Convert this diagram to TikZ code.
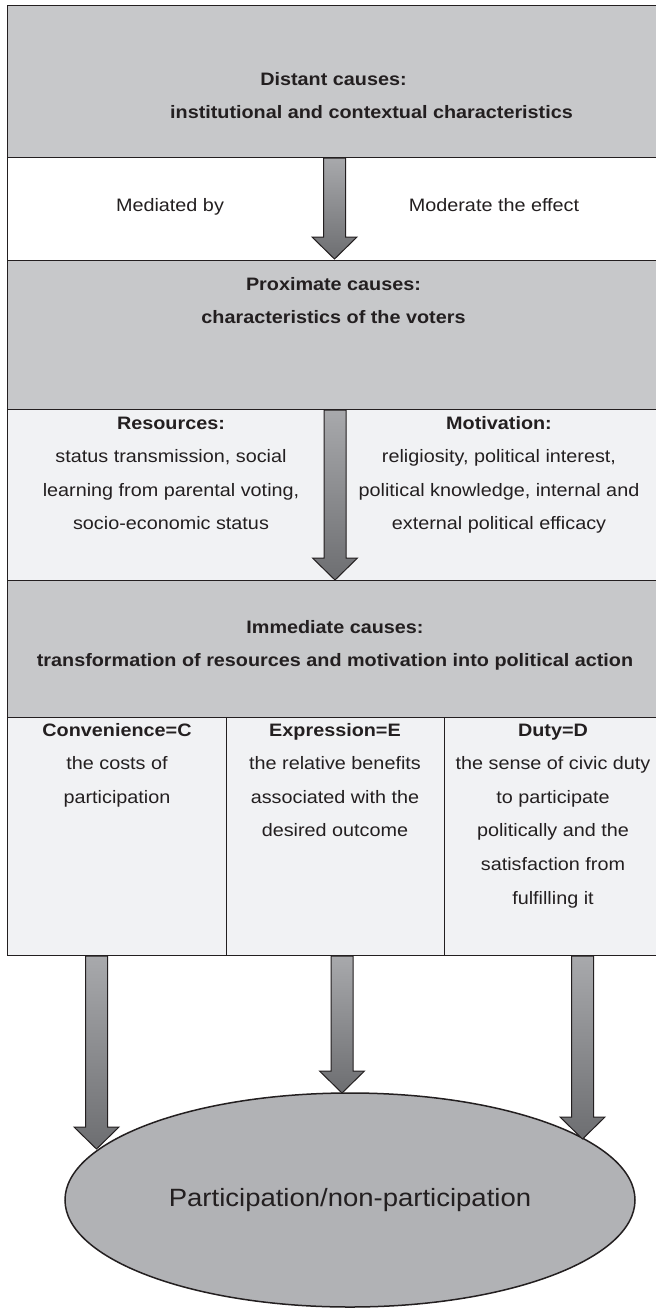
\documentclass[tikz,border=0pt]{standalone}
\usepackage{fontspec}
\setmainfont{Liberation Sans}[FakeStretch=1.1]
\usetikzlibrary{shapes.geometric,calc}
\definecolor{boxgray}{HTML}{C7C8CA}
\definecolor{lightband}{HTML}{F1F2F4}
\definecolor{ellgray}{HTML}{B1B2B5}
\definecolor{ink}{HTML}{231F20}
\definecolor{arrtop}{HTML}{A8A9AC}
\definecolor{arrbot}{HTML}{6D6E71}
\tikzset{
 band/.style={draw=ink, line width=1.2pt, rectangle, inner sep=0pt, anchor=north west},
 graybox/.style={band, fill=boxgray},
 whitebox/.style={band, fill=white},
 lightbox/.style={band, fill=lightband},
 txt/.style={text=ink, font=\fontsize{18}{33.6}\selectfont, align=center, anchor=base, inner sep=0pt},
 btxt/.style={txt, font=\bfseries\fontsize{18}{33.6}\selectfont},
 arrowshade/.style={top color=arrtop, bottom color=arrbot, draw=ink, line width=1pt, line join=miter},
}
\newcommand{\blockarrow}[2]{%
 \path[arrowshade] let \p1=(#1), \p2=(#2) in
 (\x1-11pt,\y1) -- (\x1+11pt,\y1) -- (\x1+11pt,\y2+22pt) -- (\x1+22.5pt,\y2+22pt)
 -- (\x1,\y2) -- (\x1-22.5pt,\y2+22pt) -- (\x1-11pt,\y2+22pt) -- cycle;}
\begin{document}
\begin{tikzpicture}[x=1pt,y=-1pt]
\clip (0,0) rectangle (656,1312);
\fill[white] (0,0) rectangle (656,1312);
% bands
\node[graybox, minimum width=653pt, minimum height=152pt] (distant) at (7,5) {};
\node[whitebox, minimum width=653pt, minimum height=103pt] (medband) at (7,157) {};
\node[graybox, minimum width=653pt, minimum height=149pt] (prox) at (7,260) {};
\node[lightbox, minimum width=653pt, minimum height=171pt] (resband) at (7,409) {};
\node[graybox, minimum width=653pt, minimum height=137pt] (imm) at (7,580) {};
\node[lightbox, minimum width=219pt, minimum height=238pt] (colC) at (7,717) {};
\node[lightbox, minimum width=218pt, minimum height=238pt] (colE) at (226,717) {};
\node[lightbox, minimum width=216pt, minimum height=238pt] (colD) at (444,717) {};
% texts (anchor base = baseline of the last line)
\node[btxt] (tdist) at (333.5,118.6) {Distant causes:\\\hspace*{76pt}institutional and contextual characteristics};
\node[txt] (tmed) at (170,211) {Mediated by};
\node[txt] (tmod) at (494,211) {Moderate the effect};
\node[btxt] (tprox) at (333.5,323.6) {Proximate causes:\\characteristics of the voters};
\node[txt] (tres) at (171,529.8) {\bfseries Resources:\\status transmission, social\\learning from parental voting,\\socio-economic status};
\node[txt] (tmot) at (499,529.8) {\bfseries Motivation:\\religiosity, political interest,\\political knowledge, internal and\\external political efficacy};
\node[btxt] (timm) at (335,666.6) {Immediate causes:\\transformation of resources and motivation into political action};
\node[txt] (tC) at (117,803.2) {\bfseries Convenience=C\\the costs of\\participation};
\node[txt] (tE) at (335,836.8) {\bfseries Expression=E\\the relative benefits\\associated with the\\desired outcome};
\node[txt] (tD) at (553,904) {\bfseries Duty=D\\the sense of civic duty\\to participate\\politically and the\\satisfaction from\\fulfilling it};
% outcome
\node[ellipse, draw=ink, line width=1.5pt, fill=ellgray, minimum width=570pt, minimum height=214pt, inner sep=0pt,
 text=ink, font=\fontsize{25}{30}\selectfont] (part) at (350,1200) {Participation/non-participation};
% arrow endpoints
\coordinate (a1s) at (334.5,158);
\coordinate (a1t) at (334.5,259);
\coordinate (a2s) at (335,410);
\coordinate (a2t) at (335,580);
\coordinate (a3s) at (96.5,956);
\coordinate (a3t) at (96.5,1149);
\coordinate (a4s) at (342,956);
\coordinate (a4t) at (342,1093);
\coordinate (a5s) at (582.5,956);
\coordinate (a5t) at (582.5,1139);
\blockarrow{a1s}{a1t}
\blockarrow{a2s}{a2t}
\blockarrow{a3s}{a3t}
\blockarrow{a4s}{a4t}
\blockarrow{a5s}{a5t}
\end{tikzpicture}
\end{document}
